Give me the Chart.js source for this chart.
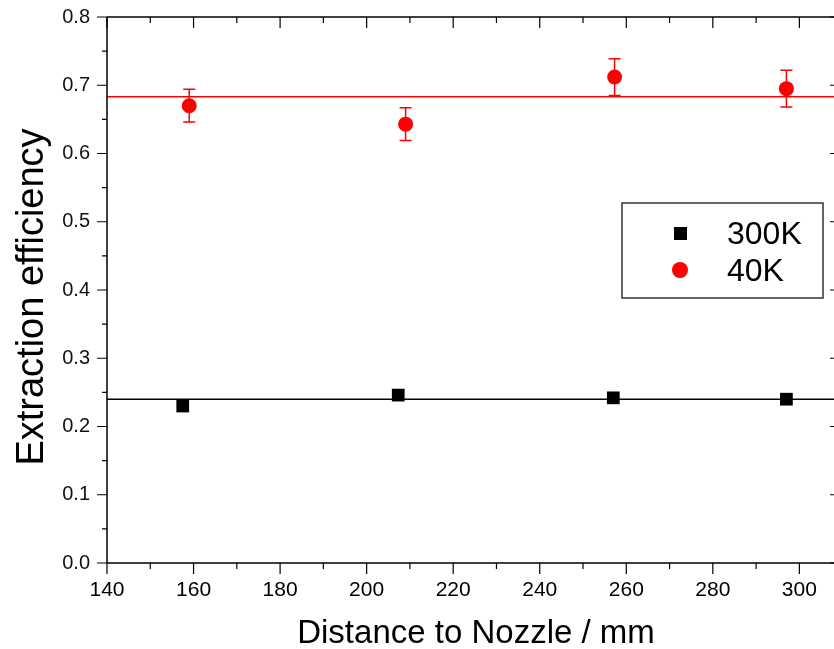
<!DOCTYPE html>
<html>
<head>
<meta charset="utf-8">
<script src="https://cdn.jsdelivr.net/npm/chart.js@4.4.1/dist/chart.umd.min.js"></script>
<style>
html, body { margin: 0; padding: 0; background: #fff; }
#wrap { width: 834px; height: 649px; }
</style>
</head>
<body>
<div id="wrap"><canvas id="effChart"></canvas></div>
<script>
// data
const dist300K = [157.5, 207.3, 257, 297];
const eff300K = [0.230, 0.246, 0.242, 0.240];
const dist40K = [159, 209, 257.3, 297];
const eff40K = [0.670, 0.643, 0.712, 0.695];
const err40K = [0.024, 0.024, 0.027, 0.027];
const fit300K = 0.240;
const fit40K = 0.683;
const xTicks = [140, 160, 180, 200, 220, 240, 260, 280, 300];
const yTicks = [0, 0.1, 0.2, 0.3, 0.4, 0.5, 0.6, 0.7, 0.8];
const xRange = [140, 308];
const yRange = [0, 0.8];
const seriesNames = ['300K', '40K'];

const toPoints = (xs, ys) => xs.map((x, i) => ({ x: x, y: ys[i] }));

// error bars, axes frame, minor ticks, legend and axis titles
const framePlugin = {
    id: 'framePlugin',
    beforeDatasetsDraw(chart) {
        const ctx = chart.ctx;
        const xs = chart.scales.x, ys = chart.scales.y;
        ctx.save();
        ctx.strokeStyle = '#ff0000';
        ctx.lineWidth = 1.5;
        dist40K.forEach((d, i) => {
            const px = xs.getPixelForValue(d);
            const top = ys.getPixelForValue(eff40K[i] + err40K[i]);
            const bot = ys.getPixelForValue(eff40K[i] - err40K[i]);
            ctx.beginPath();
            ctx.moveTo(px, top); ctx.lineTo(px, bot);
            ctx.moveTo(px - 6, top); ctx.lineTo(px + 6, top);
            ctx.moveTo(px - 6, bot); ctx.lineTo(px + 6, bot);
            ctx.stroke();
        });
        ctx.restore();
    },
    afterDraw(chart) {
        const ctx = chart.ctx;
        const a = chart.chartArea;
        const xs = chart.scales.x, ys = chart.scales.y;
        const rightAxis = a.right + 6; // sits just past the canvas edge
        ctx.save();
        ctx.strokeStyle = '#000';
        ctx.lineWidth = 1.5;
        ctx.beginPath();
        ctx.moveTo(a.left, a.top); ctx.lineTo(rightAxis, a.top);
        ctx.moveTo(a.left, a.top); ctx.lineTo(a.left, a.bottom);
        ctx.moveTo(a.left, a.bottom); ctx.lineTo(rightAxis, a.bottom);
        ctx.stroke();

        ctx.lineWidth = 1.2;
        ctx.beginPath();
        for (let v = 140; v <= xRange[1]; v += 10) {
            const px = xs.getPixelForValue(v);
            const major = v % 20 === 0;
            ctx.moveTo(px, a.bottom); ctx.lineTo(px, a.bottom + (major ? 11 : 6));
            ctx.moveTo(px, a.top); ctx.lineTo(px, a.top + (major ? 11 : 6));
        }
        for (let k = 0; k <= 16; k++) {
            const py = ys.getPixelForValue(k * 0.05);
            const len = k % 2 === 0 ? 10 : 5;
            ctx.moveTo(a.left, py); ctx.lineTo(a.left - len, py);
            ctx.moveTo(rightAxis, py); ctx.lineTo(rightAxis - len, py);
        }
        ctx.stroke();

        // legend
        ctx.lineWidth = 1.5;
        ctx.strokeStyle = '#333';
        ctx.strokeRect(622, 203, 201, 95);
        ctx.fillStyle = '#000';
        ctx.fillRect(674, 227, 13, 13);
        ctx.fillStyle = '#ff0000';
        ctx.beginPath();
        ctx.arc(680, 270, 8, 0, Math.PI * 2);
        ctx.fill();
        ctx.fillStyle = '#000';
        ctx.font = '32px "Liberation Sans", Arial, sans-serif';
        ctx.textBaseline = 'middle';
        ctx.textAlign = 'left';
        ctx.fillText(seriesNames[0], 727, 235);
        ctx.fillText(seriesNames[1], 727, 272);

        // axis titles
        ctx.textAlign = 'center';
        ctx.textBaseline = 'alphabetic';
        ctx.font = '33px "Liberation Sans", Arial, sans-serif';
        ctx.fillText('Distance to Nozzle / mm', 476, 643);
        ctx.save();
        ctx.font = '38px "Liberation Sans", Arial, sans-serif';
        ctx.translate(43, 297);
        ctx.rotate(-Math.PI / 2);
        ctx.fillText('Extraction efficiency', 0, 0);
        ctx.restore();
        ctx.restore();
    }
};

const noPad = s => { s.paddingTop = 0; s.paddingBottom = 0; s.paddingLeft = 0; s.paddingRight = 0; };

const ctx = document.getElementById('effChart').getContext('2d');
const effChart = new Chart(ctx, {
    type: 'scatter',
    data: {
        datasets: [{
            label: seriesNames[0],
            data: toPoints(dist300K, eff300K),
            pointStyle: 'rect',
            pointRadius: 9,
            backgroundColor: '#000',
            borderColor: '#000',
            borderWidth: 0
        }, {
            label: seriesNames[1],
            data: toPoints(dist40K, eff40K),
            pointStyle: 'circle',
            pointRadius: 7.5,
            backgroundColor: '#ff0000',
            borderColor: '#ff0000',
            borderWidth: 0
        }, {
            label: 'fit 300K',
            data: toPoints(xRange, [fit300K, fit300K]),
            showLine: true,
            pointRadius: 0,
            borderColor: '#000',
            borderWidth: 1.5
        }, {
            label: 'fit 40K',
            data: toPoints(xRange, [fit40K, fit40K]),
            showLine: true,
            pointRadius: 0,
            borderColor: '#ff0000',
            borderWidth: 1.5
        }]
    },
    options: {
        responsive: true,
        maintainAspectRatio: false,
        animation: false,
        devicePixelRatio: 1,
        layout: { autoPadding: false, padding: { top: 17, right: 0, left: 0, bottom: 0 } },
        plugins: {
            legend: { display: false },
            tooltip: { enabled: false }
        },
        scales: {
            x: {
                type: 'linear',
                min: xRange[0],
                max: xRange[1],
                grid: { display: false, drawTicks: false },
                border: { display: false },
                ticks: {
                    padding: 15,
                    color: '#000',
                    maxRotation: 0,
                    autoSkip: false,
                    font: { family: '"Liberation Sans", Arial', size: 21 }
                },
                afterBuildTicks: s => { s.ticks = xTicks.map(v => ({ value: v })); },
                afterFit: s => { s.height = 86; noPad(s); }
            },
            y: {
                min: yRange[0],
                max: yRange[1],
                grid: { display: false, drawTicks: false },
                border: { display: false },
                ticks: {
                    padding: 17,
                    color: '#111',
                    autoSkip: false,
                    font: { family: '"Liberation Sans", Arial', size: 20 },
                    callback: v => v.toFixed(1)
                },
                afterBuildTicks: s => { s.ticks = yTicks.map(v => ({ value: v })); },
                afterFit: s => { s.width = 107; noPad(s); }
            }
        }
    },
    plugins: [framePlugin]
});
</script>
</body>
</html>
